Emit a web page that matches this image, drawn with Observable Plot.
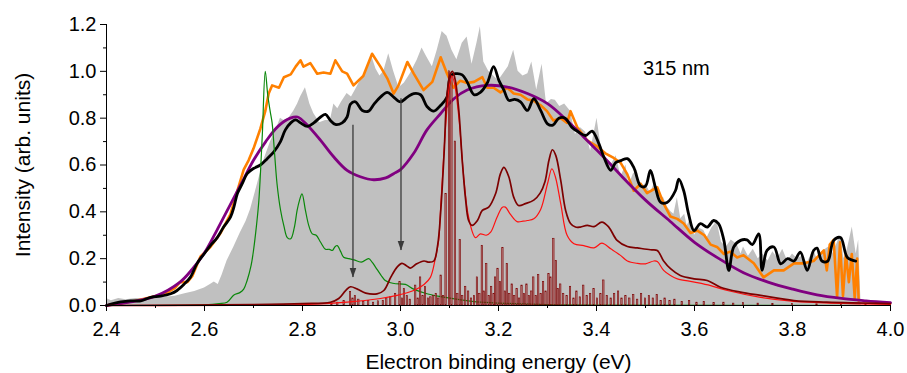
<!DOCTYPE html>
<html>
<head>
<meta charset="utf-8">
<script src="https://cdn.jsdelivr.net/npm/d3@7"></script>
<script src="https://cdn.jsdelivr.net/npm/@observablehq/plot@0.6"></script>
<style>
  html, body { margin: 0; padding: 0; background: #ffffff; }
  #chart { width: 907px; height: 373px; overflow: hidden; }
</style>
</head>
<body>
<div id="chart"></div>
<script>
// ---------- tick values ----------
const xTicks = [2.4, 2.6, 2.8, 3.0, 3.2, 3.4, 3.6, 3.8, 4.0];
const xMinorTicks = [2.5, 2.7, 2.9, 3.1, 3.3, 3.5, 3.7, 3.9];
const yTicks = [0, 0.2, 0.4, 0.6, 0.8, 1.0, 1.2];
const yMinorTicks = [0.1, 0.3, 0.5, 0.7, 0.9, 1.1];

// ---------- series: [binding energy (eV), intensity] ----------
const experimentGray = [
  [2.400,0.03],[2.410,0.02],[2.425,0.03],[2.440,0.025],[2.460,0.03],[2.480,0.03],[2.500,0.035],
  [2.520,0.035],[2.540,0.04],[2.560,0.05],[2.580,0.06],[2.600,0.075],[2.612,0.09],[2.620,0.10],
  [2.628,0.09],[2.636,0.13],[2.646,0.19],[2.660,0.25],[2.673,0.31],[2.685,0.36],[2.694,0.41],
  [2.707,0.51],[2.721,0.62],[2.735,0.70],[2.748,0.76],[2.755,0.80],[2.762,0.79],[2.772,0.80],
  [2.782,0.83],[2.790,0.86],[2.796,0.89],[2.806,0.93],[2.815,0.86],[2.823,0.82],[2.835,0.78],
  [2.847,0.79],[2.857,0.79],[2.864,0.86],[2.872,0.84],[2.880,0.87],[2.891,0.905],[2.900,0.89],
  [2.908,0.92],[2.918,0.96],[2.925,0.98],[2.932,1.02],[2.942,1.06],[2.950,1.01],[2.958,0.98],
  [2.966,1.00],[2.976,1.075],[2.986,1.00],[2.997,0.93],[3.008,0.95],[3.020,0.99],[3.034,1.047],
  [3.044,1.10],[3.054,1.06],[3.065,1.02],[3.075,1.09],[3.085,1.17],[3.095,1.15],[3.105,1.09],
  [3.115,1.05],[3.126,1.12],[3.136,1.147],[3.146,1.03],[3.156,1.12],[3.163,1.19],[3.170,1.04],
  [3.180,1.00],[3.190,0.98],[3.200,0.96],[3.210,0.99],[3.220,1.02],[3.231,1.09],[3.240,1.00],
  [3.250,0.98],[3.260,0.99],[3.268,1.04],[3.278,0.92],[3.289,1.03],[3.298,0.86],[3.308,0.88],
  [3.316,0.876],[3.325,0.85],[3.335,0.86],[3.347,0.83],[3.357,0.73],[3.367,0.76],[3.378,0.74],
  [3.388,0.66],[3.401,0.80],[3.410,0.67],[3.420,0.63],[3.430,0.60],[3.440,0.64],[3.450,0.55],
  [3.460,0.60],[3.466,0.51],[3.475,0.56],[3.483,0.58],[3.490,0.50],[3.500,0.52],[3.510,0.48],
  [3.520,0.53],[3.530,0.47],[3.537,0.46],[3.545,0.42],[3.552,0.40],[3.558,0.39],[3.565,0.46],
  [3.572,0.37],[3.580,0.39],[3.585,0.34],[3.592,0.37],[3.600,0.30],[3.610,0.33],[3.619,0.32],
  [3.626,0.29],[3.635,0.33],[3.646,0.36],[3.655,0.27],[3.665,0.25],[3.675,0.28],[3.687,0.26],
  [3.695,0.22],[3.700,0.25],[3.710,0.21],[3.720,0.24],[3.730,0.20],[3.740,0.22],[3.750,0.19],
  [3.760,0.23],[3.770,0.20],[3.780,0.24],[3.790,0.19],[3.800,0.22],[3.810,0.20],[3.820,0.21],
  [3.830,0.18],[3.843,0.24],[3.850,0.20],[3.860,0.23],[3.874,0.25],[3.880,0.21],[3.890,0.26],
  [3.898,0.30],[3.905,0.20],[3.912,0.24],[3.922,0.335],[3.930,0.22],[3.935,0.28],[3.940,0.0]
];

const experimentOrange = [
  [2.400,0.00],[2.430,0.010],[2.460,0.020],[2.490,0.035],[2.520,0.050],[2.540,0.075],[2.550,0.100],
  [2.565,0.100],[2.575,0.125],[2.592,0.21],[2.612,0.25],[2.633,0.31],[2.653,0.39],[2.667,0.49],
  [2.680,0.58],[2.690,0.62],[2.700,0.67],[2.714,0.755],[2.724,0.83],[2.731,0.905],[2.738,0.94],
  [2.752,0.93],[2.762,0.975],[2.776,0.987],[2.786,1.02],[2.796,1.047],[2.802,1.02],[2.816,1.035],
  [2.830,0.99],[2.843,0.995],[2.857,0.99],[2.867,1.047],[2.881,1.00],[2.891,0.99],[2.904,0.94],
  [2.924,0.98],[2.942,1.075],[2.959,1.02],[2.973,0.97],[2.986,0.905],[2.996,0.94],[3.014,1.04],
  [3.027,0.99],[3.047,0.92],[3.065,0.955],[3.082,1.06],[3.095,0.99],[3.108,0.93],[3.122,0.96],
  [3.136,0.95],[3.150,0.955],[3.167,0.975],[3.177,0.93],[3.190,0.93],[3.204,0.91],[3.218,0.93],
  [3.231,0.905],[3.245,0.90],[3.259,0.88],[3.271,0.875],[3.286,0.855],[3.299,0.83],[3.312,0.79],
  [3.327,0.80],[3.340,0.78],[3.347,0.83],[3.361,0.76],[3.381,0.705],[3.401,0.68],[3.418,0.65],
  [3.435,0.63],[3.449,0.61],[3.463,0.56],[3.476,0.49],[3.490,0.52],[3.503,0.48],[3.524,0.505],
  [3.537,0.435],[3.551,0.38],[3.565,0.37],[3.578,0.35],[3.592,0.31],[3.606,0.32],[3.620,0.30],
  [3.633,0.26],[3.646,0.25],[3.660,0.22],[3.673,0.23],[3.687,0.205],[3.700,0.215],[3.721,0.18],
  [3.741,0.12],[3.762,0.15],[3.782,0.15],[3.803,0.18],[3.823,0.18],[3.843,0.19],[3.864,0.235],
  [3.870,0.15],[3.876,0.26],[3.884,0.28],[3.891,0.035],[3.897,0.27],[3.903,0.04],[3.909,0.22],
  [3.915,0.10],[3.921,0.22],[3.927,0.03],[3.932,0.20],[3.935,0.02]
];

const experimentBlack = [
  [2.400,0.00],[2.429,0.015],[2.449,0.02],[2.470,0.02],[2.490,0.035],[2.510,0.04],[2.531,0.05],
  [2.544,0.064],[2.558,0.09],[2.571,0.12],[2.585,0.18],[2.599,0.22],[2.612,0.256],[2.626,0.29],
  [2.639,0.335],[2.653,0.377],[2.660,0.42],[2.667,0.477],[2.677,0.52],[2.687,0.563],[2.700,0.585],
  [2.714,0.60],[2.728,0.627],[2.741,0.655],[2.755,0.70],[2.765,0.75],[2.776,0.78],[2.786,0.793],
  [2.796,0.78],[2.810,0.765],[2.823,0.78],[2.837,0.805],[2.847,0.816],[2.857,0.79],[2.867,0.773],
  [2.881,0.78],[2.891,0.805],[2.898,0.86],[2.908,0.87],[2.922,0.833],[2.935,0.83],[2.946,0.86],
  [2.959,0.89],[2.973,0.91],[2.986,0.89],[3.000,0.87],[3.014,0.89],[3.027,0.905],[3.041,0.90],
  [3.054,0.85],[3.068,0.83],[3.082,0.855],[3.095,0.89],[3.102,0.98],[3.112,0.99],[3.126,0.985],
  [3.136,0.955],[3.150,0.90],[3.163,0.91],[3.177,0.95],[3.190,1.02],[3.201,0.96],[3.211,0.92],
  [3.221,0.876],[3.233,0.88],[3.245,0.87],[3.259,0.833],[3.272,0.883],[3.286,0.833],[3.300,0.776],
  [3.311,0.77],[3.323,0.80],[3.336,0.80],[3.350,0.76],[3.364,0.74],[3.378,0.726],[3.391,0.745],
  [3.405,0.69],[3.415,0.634],[3.429,0.577],[3.439,0.61],[3.451,0.62],[3.463,0.627],[3.476,0.59],
  [3.490,0.51],[3.500,0.51],[3.510,0.577],[3.520,0.506],[3.531,0.44],[3.544,0.44],[3.561,0.49],
  [3.568,0.54],[3.578,0.49],[3.588,0.39],[3.599,0.32],[3.612,0.35],[3.626,0.335],[3.639,0.363],
  [3.649,0.35],[3.660,0.278],[3.670,0.15],[3.680,0.25],[3.694,0.278],[3.707,0.28],[3.718,0.26],
  [3.731,0.306],[3.738,0.15],[3.748,0.235],[3.762,0.25],[3.776,0.178],[3.790,0.20],[3.803,0.19],
  [3.816,0.228],[3.830,0.15],[3.843,0.235],[3.850,0.245],[3.860,0.19],[3.872,0.19],[3.884,0.278],
  [3.898,0.29],[3.912,0.205],[3.929,0.19]
];

const fitPurple = [
  [2.400,0.0],[2.450,0.015],[2.500,0.04],[2.550,0.10],[2.575,0.155],[2.600,0.225],[2.625,0.32],
  [2.650,0.42],[2.675,0.52],[2.700,0.62],[2.725,0.70],[2.750,0.765],[2.775,0.80],[2.790,0.805],
  [2.810,0.77],[2.837,0.705],[2.864,0.634],[2.891,0.577],[2.918,0.55],[2.945,0.537],[2.970,0.545],
  [2.986,0.563],[3.000,0.58],[3.027,0.65],[3.054,0.75],[3.082,0.82],[3.109,0.883],[3.136,0.92],
  [3.177,0.94],[3.218,0.933],[3.259,0.905],[3.300,0.862],[3.340,0.79],[3.367,0.734],[3.400,0.665],
  [3.430,0.60],[3.450,0.555],[3.500,0.45],[3.550,0.36],[3.600,0.27],[3.650,0.20],[3.700,0.14],
  [3.750,0.10],[3.800,0.07],[3.850,0.045],[3.900,0.03],[3.950,0.02],[4.000,0.012]
];

const simGreen = [
  [2.400,0.0],[2.600,0.003],[2.630,0.008],[2.646,0.014],[2.660,0.045],[2.672,0.055],[2.680,0.07],
  [2.687,0.107],[2.695,0.17],[2.700,0.235],[2.706,0.34],[2.711,0.45],[2.718,0.73],[2.724,1.00],
  [2.729,0.90],[2.734,0.83],[2.738,0.78],[2.743,0.65],[2.748,0.52],[2.755,0.41],[2.762,0.34],
  [2.769,0.29],[2.776,0.285],[2.783,0.33],[2.789,0.406],[2.794,0.45],[2.799,0.477],[2.806,0.406],
  [2.813,0.34],[2.820,0.306],[2.828,0.30],[2.837,0.27],[2.847,0.24],[2.855,0.24],[2.861,0.235],
  [2.866,0.25],[2.871,0.256],[2.878,0.23],[2.884,0.206],[2.895,0.20],[2.905,0.195],[2.920,0.185],
  [2.935,0.20],[2.942,0.185],[2.949,0.164],[2.960,0.13],[2.969,0.107],[2.980,0.097],[2.990,0.093],
  [3.010,0.09],[3.027,0.07],[3.054,0.05],[3.082,0.038],[3.120,0.025],[3.163,0.014],[3.230,0.008],
  [3.300,0.004],[3.400,0.002],[4.000,0.0]
];

const simDarkRed = [
  [2.400,0.0],[2.700,0.004],[2.800,0.008],[2.857,0.014],[2.874,0.03],[2.888,0.064],[2.898,0.08],
  [2.912,0.07],[2.929,0.053],[2.952,0.05],[2.966,0.064],[2.980,0.12],[2.993,0.164],[3.003,0.18],
  [3.012,0.17],[3.020,0.16],[3.033,0.178],[3.048,0.19],[3.058,0.185],[3.068,0.19],[3.076,0.26],
  [3.082,0.40],[3.089,0.65],[3.095,0.905],[3.102,0.99],[3.106,1.0],[3.112,0.96],[3.119,0.833],
  [3.126,0.62],[3.133,0.45],[3.139,0.363],[3.146,0.342],[3.157,0.363],[3.167,0.406],[3.180,0.42],
  [3.194,0.477],[3.204,0.563],[3.211,0.59],[3.221,0.55],[3.231,0.463],[3.241,0.427],[3.255,0.435],
  [3.272,0.45],[3.285,0.48],[3.295,0.53],[3.303,0.62],[3.310,0.665],[3.317,0.64],[3.327,0.534],
  [3.337,0.406],[3.347,0.35],[3.357,0.335],[3.367,0.335],[3.381,0.342],[3.395,0.337],[3.411,0.356],
  [3.425,0.335],[3.442,0.278],[3.463,0.252],[3.483,0.246],[3.510,0.238],[3.524,0.235],[3.537,0.19],
  [3.551,0.157],[3.571,0.128],[3.599,0.114],[3.626,0.107],[3.653,0.078],[3.694,0.057],[3.735,0.043],
  [3.803,0.021],[3.870,0.014],[4.000,0.008]
];

const simRed = [
  [2.400,0.0],[2.800,0.004],[2.891,0.014],[2.959,0.03],[2.993,0.043],[3.027,0.064],[3.048,0.09],
  [3.061,0.12],[3.071,0.20],[3.078,0.28],[3.082,0.42],[3.092,0.76],[3.099,0.93],[3.105,0.98],
  [3.110,0.95],[3.119,0.805],[3.129,0.55],[3.139,0.377],[3.153,0.29],[3.163,0.306],[3.175,0.30],
  [3.184,0.313],[3.197,0.377],[3.208,0.42],[3.214,0.42],[3.224,0.39],[3.238,0.358],[3.250,0.36],
  [3.259,0.363],[3.272,0.37],[3.286,0.41],[3.300,0.52],[3.309,0.584],[3.316,0.55],[3.327,0.435],
  [3.340,0.30],[3.354,0.264],[3.374,0.256],[3.395,0.246],[3.411,0.266],[3.429,0.242],[3.449,0.214],
  [3.463,0.19],[3.483,0.18],[3.500,0.178],[3.517,0.19],[3.524,0.188],[3.537,0.15],[3.551,0.128],
  [3.565,0.114],[3.600,0.10],[3.633,0.085],[3.667,0.064],[3.735,0.035],[3.803,0.018],[4.000,0.005]
];

const sticks = [
  [2.860,0.008],[2.872,0.012],[2.885,0.02],[2.898,0.057],[2.903,0.03],[2.908,0.04],[2.915,0.025],
  [2.925,0.015],[2.935,0.02],[2.945,0.012],[2.955,0.018],[2.965,0.02],[2.972,0.03],[2.980,0.035],
  [2.990,0.05],[2.999,0.10],[3.004,0.03],[3.008,0.07],[3.014,0.04],[3.020,0.025],[3.031,0.085],
  [3.036,0.03],[3.041,0.12],[3.046,0.04],[3.051,0.08],[3.057,0.03],[3.062,0.035],[3.067,0.04],
  [3.073,0.05],[3.078,0.03],[3.083,0.128],[3.088,0.04],[3.093,0.477],[3.100,1.0],[3.105,0.98],
  [3.112,0.70],[3.117,0.05],[3.122,0.28],[3.127,0.04],[3.133,0.08],[3.139,0.06],[3.145,0.03],
  [3.151,0.04],[3.157,0.12],[3.162,0.05],[3.167,0.255],[3.171,0.06],[3.176,0.178],[3.181,0.04],
  [3.186,0.08],[3.191,0.05],[3.194,0.12],[3.199,0.157],[3.204,0.10],[3.209,0.246],[3.214,0.06],
  [3.218,0.178],[3.223,0.05],[3.228,0.09],[3.233,0.04],[3.238,0.07],[3.243,0.03],[3.248,0.085],
  [3.253,0.05],[3.258,0.09],[3.263,0.04],[3.268,0.06],[3.272,0.12],[3.277,0.04],[3.282,0.13],
  [3.287,0.05],[3.292,0.10],[3.297,0.06],[3.303,0.135],[3.307,0.12],[3.313,0.285],[3.318,0.19],
  [3.322,0.07],[3.327,0.09],[3.333,0.05],[3.340,0.04],[3.347,0.08],[3.354,0.03],[3.360,0.06],
  [3.367,0.035],[3.374,0.085],[3.381,0.04],[3.388,0.05],[3.395,0.07],[3.402,0.03],[3.409,0.05],
  [3.415,0.107],[3.422,0.04],[3.430,0.03],[3.437,0.05],[3.445,0.06],[3.452,0.03],[3.460,0.04],
  [3.468,0.03],[3.476,0.045],[3.484,0.025],[3.492,0.05],[3.500,0.03],[3.508,0.04],[3.516,0.03],
  [3.524,0.045],[3.532,0.02],[3.540,0.03],[3.550,0.02],[3.560,0.025],[3.575,0.015],[3.590,0.02],
  [3.605,0.012],[3.620,0.015],[3.640,0.01],[3.660,0.012],[3.680,0.008],[3.700,0.01],[3.730,0.008],
  [3.760,0.006],[3.800,0.006],[3.850,0.005],[3.900,0.004],[3.950,0.003]
];

// arrows: energy, start intensity, end intensity
const arrowE = [2.903, 3.001];
const arrowFrom = [0.77, 0.883];
const arrowTo = [0.12, 0.235];

const annotationText = ["315 nm"];

// ---------- build tables ----------
const toRows = arr => arr.map(([e, v]) => ({e, v}));
const gray = toRows(experimentGray);
const orange = toRows(experimentOrange);
const black = toRows(experimentBlack);
const purple = toRows(fitPurple);
const green = toRows(simGreen);
const darkred = toRows(simDarkRed);
const red = toRows(simRed);
const stickRows = toRows(sticks);
const arrows = arrowE.map((e, i) => ({e, from: arrowFrom[i], to: arrowTo[i]}));

const FONT = "Arial, 'Liberation Sans', sans-serif";
const fmt = d3.format(".1f");
const arrowHead = {
  draw(ctx) {
    ctx.moveTo(0, 0);
    ctx.lineTo(-3.3, -9.5);
    ctx.lineTo(3.3, -9.5);
    ctx.closePath();
  }
};

const chart = Plot.plot({
  width: 907,
  height: 373,
  marginLeft: 106,
  marginRight: 17,
  marginTop: 24,
  marginBottom: 68,
  style: {fontFamily: FONT, fontSize: "20px", background: "#ffffff", color: "#000000"},
  x: {domain: [2.4, 4.0]},
  y: {domain: [0, 1.2]},
  marks: [
    Plot.areaY(gray, {x: "e", y: "v", fill: "#c0c0c0", curve: "linear"}),
    Plot.line(orange, {x: "e", y: "v", stroke: "#ff8000", strokeWidth: 2.6, curve: "linear"}),
    Plot.line(purple, {x: "e", y: "v", stroke: "#800080", strokeWidth: 2.8, curve: "catmull-rom"}),
    Plot.line(black, {x: "e", y: "v", stroke: "#000000", strokeWidth: 2.8, curve: "catmull-rom"}),
    Plot.line(green, {x: "e", y: "v", stroke: "#0a870a", strokeWidth: 1.2, curve: "catmull-rom"}),
    Plot.rectY(stickRows, {x1: d => d.e - 0.0014, x2: d => d.e + 0.0014, y1: 0, y2: "v",
      fill: "#b86a6a", fillOpacity: 0.8, stroke: "#7a0000", strokeWidth: 0.6}),
    Plot.line(red, {x: "e", y: "v", stroke: "#ff1010", strokeWidth: 1.2, curve: "catmull-rom"}),
    Plot.line(darkred, {x: "e", y: "v", stroke: "#7d0000", strokeWidth: 1.7, curve: "catmull-rom"}),
    Plot.ruleX(arrows, {x: "e", y1: "from", y2: "to", stroke: "#3a3a3a", strokeWidth: 1.3}),
    Plot.dot(arrows, {x: "e", y: "to", symbol: arrowHead, fill: "#3a3a3a", stroke: "none"}),
    Plot.text(annotationText, {x: 3.495, y: 1.01, text: d => d, textAnchor: "start", fontSize: 20, fill: "#000"}),
    Plot.ruleX([2.4], {stroke: "#000", strokeWidth: 1}),
    Plot.ruleY([0], {stroke: "#000", strokeWidth: 1}),
    Plot.axisX(xTicks, {tickSize: 6, tickPadding: 10, tickFormat: fmt, label: null, fontSize: 20, stroke: "#000"}),
    Plot.axisX(xMinorTicks, {tickSize: 3, tickFormat: () => "", label: null, stroke: "#000"}),
    Plot.axisY(yTicks, {tickSize: 6, tickPadding: 4, tickFormat: fmt, label: null, fontSize: 20, stroke: "#000"}),
    Plot.axisY(yMinorTicks, {tickSize: 3, tickFormat: () => "", label: null, stroke: "#000"}),
    Plot.text(["Intensity (arb. units)"], {frameAnchor: "left", rotate: -90, dx: -83, fontSize: 21,
      textAnchor: "middle", lineAnchor: "middle", text: d => d, fill: "#000"}),
    Plot.text(["Electron binding energy (eV)"], {frameAnchor: "bottom", dy: 57, fontSize: 21,
      textAnchor: "middle", lineAnchor: "middle", text: d => d, fill: "#000"})
  ]
});
document.getElementById("chart").appendChild(chart);
</script>
</body>
</html>
